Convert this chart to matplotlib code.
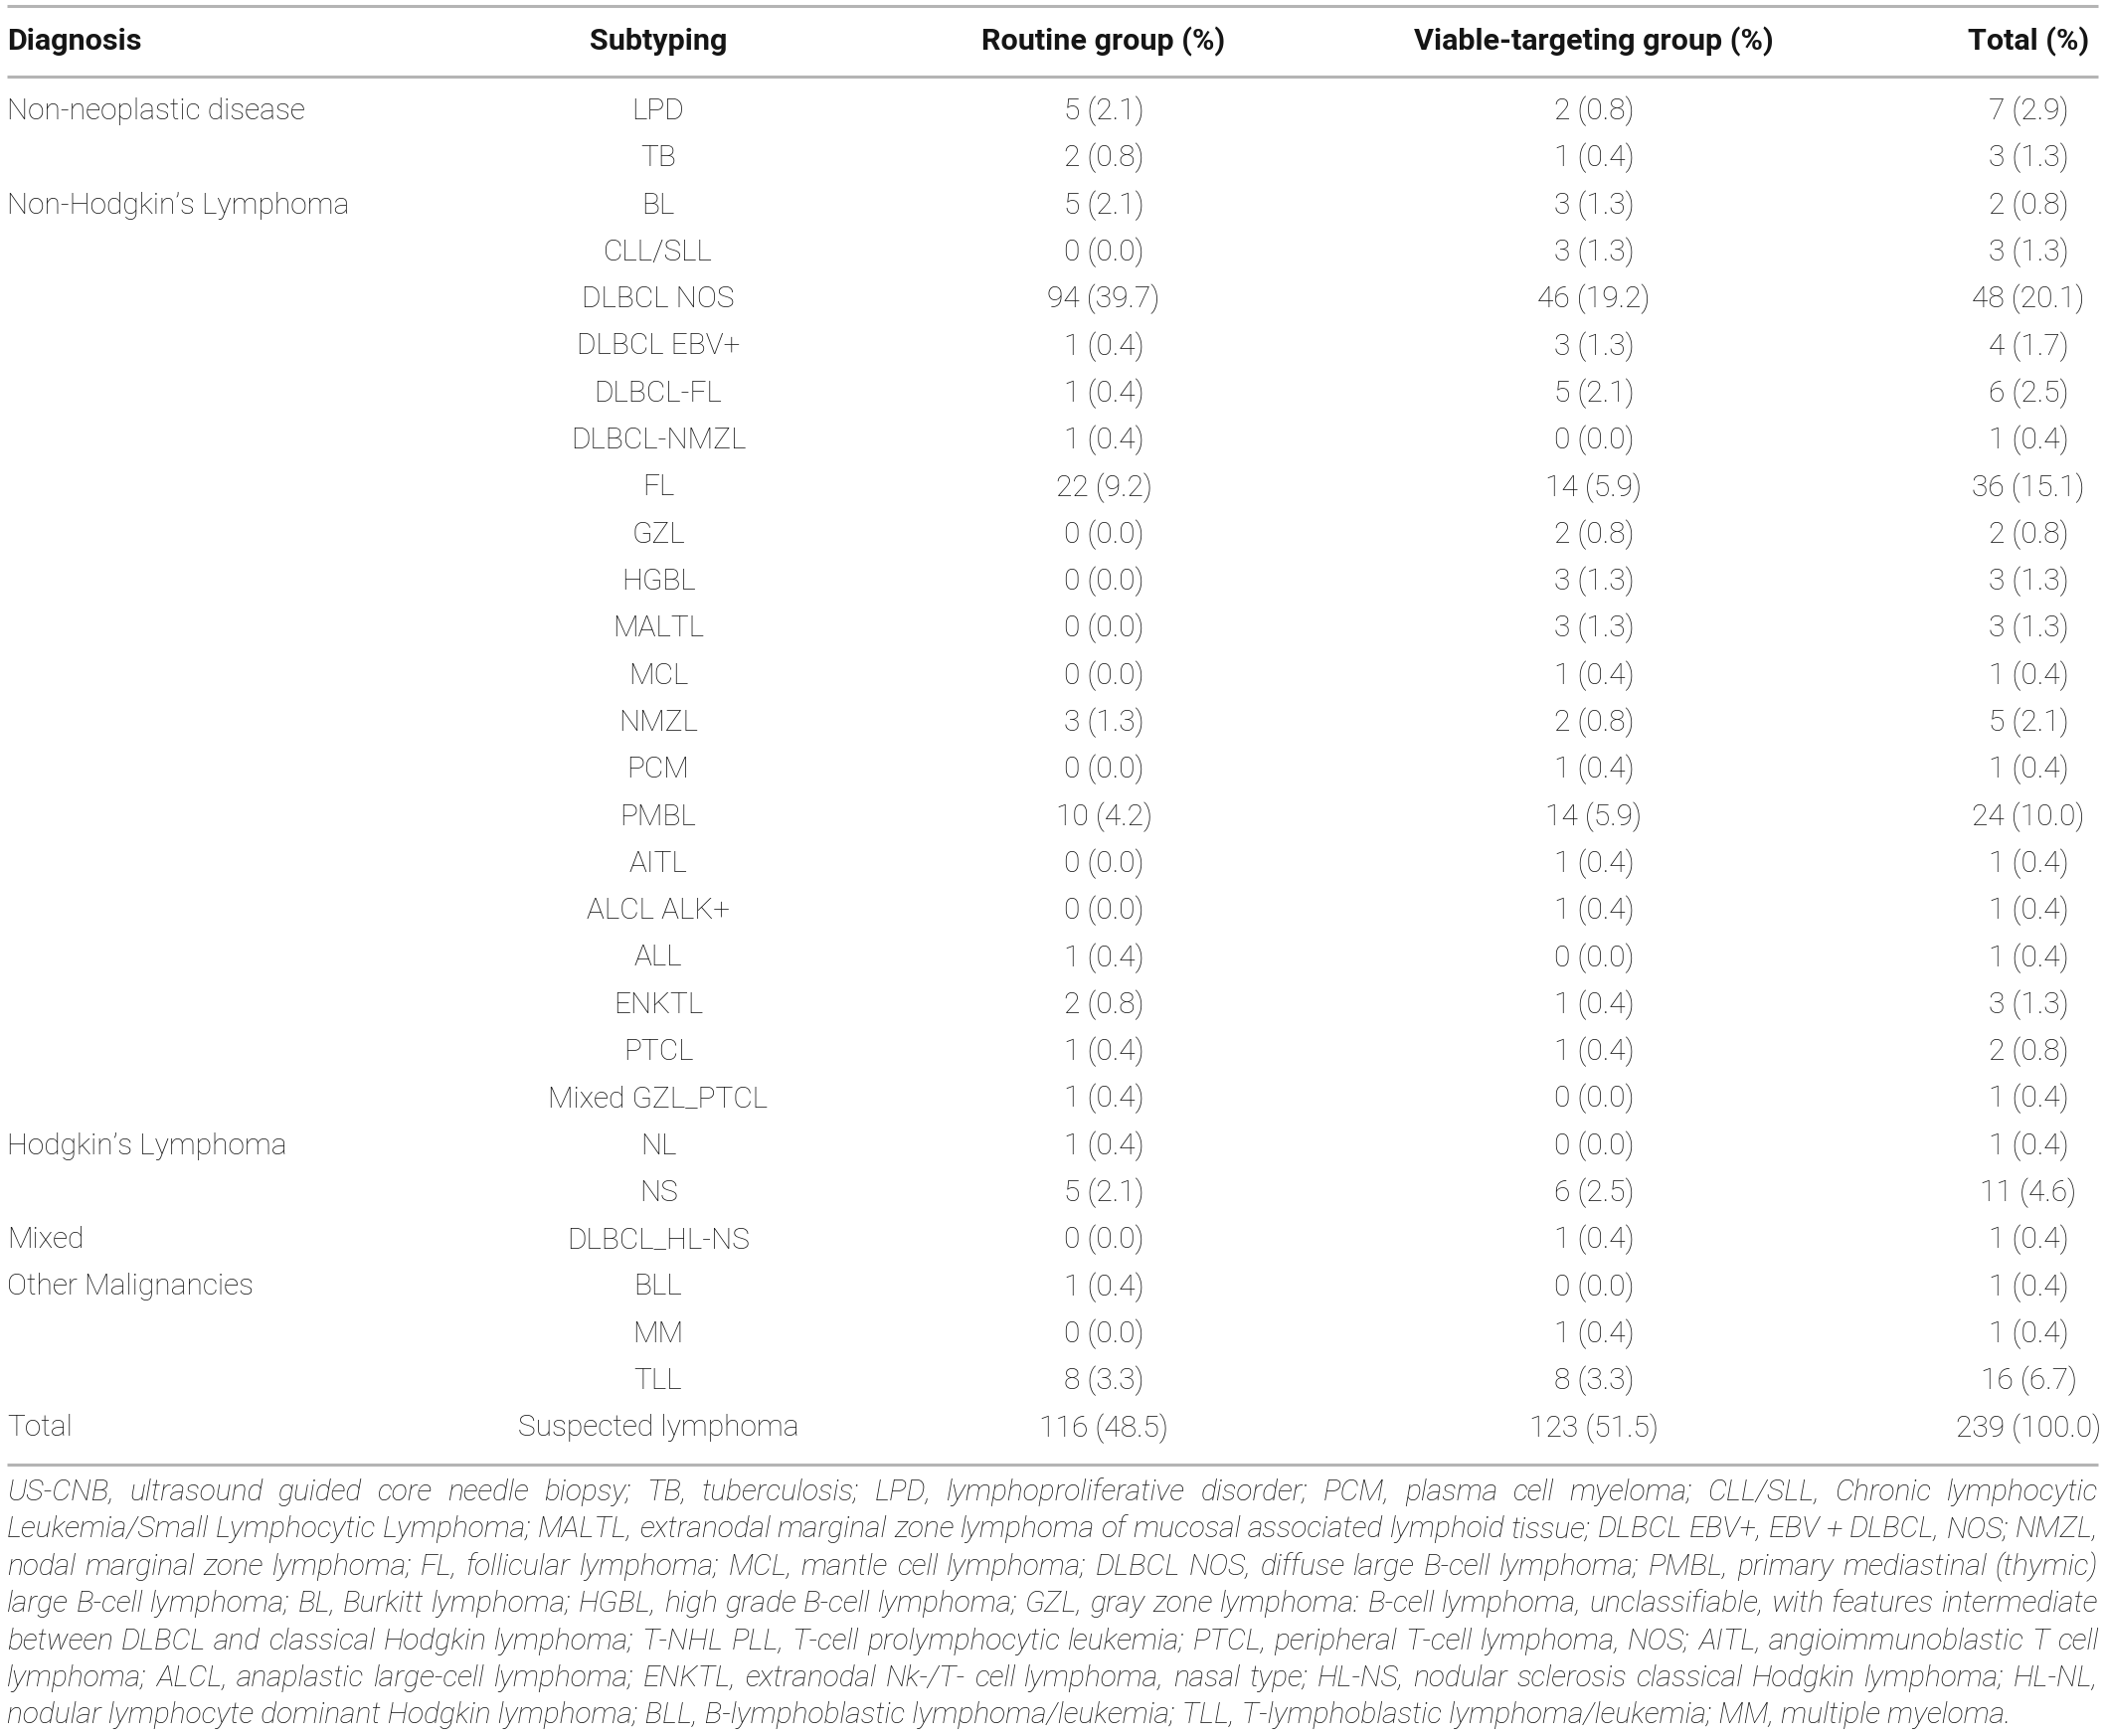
import matplotlib
matplotlib.use("Agg")
import matplotlib.pyplot as plt

# table contents
columns = ["Diagnosis", "Subtyping", "Routine group (%)",
           "Viable-targeting group (%)", "Total (%)"]

diagnosis = ["Non-neoplastic disease", "", "Non-Hodgkin\u2019s Lymphoma"] + [""] * 19 + \
            ["Hodgkin\u2019s Lymphoma", "", "Mixed", "Other Malignancies", "", "", "Total"]

subtyping = ["LPD", "TB", "BL", "CLL/SLL", "DLBCL NOS", "DLBCL EBV+", "DLBCL-FL",
             "DLBCL-NMZL", "FL", "GZL", "HGBL", "MALTL", "MCL", "NMZL", "PCM", "PMBL",
             "AITL", "ALCL ALK+", "ALL", "ENKTL", "PTCL", "Mixed GZL_PTCL", "NL", "NS",
             "DLBCL_HL-NS", "BLL", "MM", "TLL", "Suspected lymphoma"]

routine_n = [5, 2, 5, 0, 94, 1, 1, 1, 22, 0, 0, 0, 0, 3, 0, 10, 0, 0, 1, 2, 1, 1, 1, 5, 0, 1, 0, 8, 116]
routine_pct = [2.1, 0.8, 2.1, 0.0, 39.7, 0.4, 0.4, 0.4, 9.2, 0.0, 0.0, 0.0, 0.0, 1.3, 0.0, 4.2,
               0.0, 0.0, 0.4, 0.8, 0.4, 0.4, 0.4, 2.1, 0.0, 0.4, 0.0, 3.3, 48.5]

viable_n = [2, 1, 3, 3, 46, 3, 5, 0, 14, 2, 3, 3, 1, 2, 1, 14, 1, 1, 0, 1, 1, 0, 0, 6, 1, 0, 1, 8, 123]
viable_pct = [0.8, 0.4, 1.3, 1.3, 19.2, 1.3, 2.1, 0.0, 5.9, 0.8, 1.3, 1.3, 0.4, 0.8, 0.4, 5.9,
              0.4, 0.4, 0.0, 0.4, 0.4, 0.0, 0.0, 2.5, 0.4, 0.0, 0.4, 3.3, 51.5]

total_n = [7, 3, 2, 3, 48, 4, 6, 1, 36, 2, 3, 3, 1, 5, 1, 24, 1, 1, 1, 3, 2, 1, 1, 11, 1, 1, 1, 16, 239]
total_pct = [2.9, 1.3, 0.8, 1.3, 20.1, 1.7, 2.5, 0.4, 15.1, 0.8, 1.3, 1.3, 0.4, 2.1, 0.4, 10.0,
             0.4, 0.4, 0.4, 1.3, 0.8, 0.4, 0.4, 4.6, 0.4, 0.4, 0.4, 6.7, 100.0]

footnote = [
    "US-CNB, ultrasound guided core needle biopsy; TB, tuberculosis; LPD, lymphoproliferative disorder; PCM, plasma cell myeloma; CLL/SLL, Chronic lymphocytic",
    "Leukemia/Small Lymphocytic Lymphoma; MALTL, extranodal marginal zone lymphoma of mucosal associated lymphoid tissue; DLBCL EBV+, EBV + DLBCL, NOS; NMZL,",
    "nodal marginal zone lymphoma; FL, follicular lymphoma; MCL, mantle cell lymphoma; DLBCL NOS, diffuse large B-cell lymphoma; PMBL, primary mediastinal (thymic)",
    "large B-cell lymphoma; BL, Burkitt lymphoma; HGBL, high grade B-cell lymphoma; GZL, gray zone lymphoma: B-cell lymphoma, unclassifiable, with features intermediate",
    "between DLBCL and classical Hodgkin lymphoma; T-NHL PLL, T-cell prolymphocytic leukemia; PTCL, peripheral T-cell lymphoma, NOS; AITL, angioimmunoblastic T cell",
    "lymphoma; ALCL, anaplastic large-cell lymphoma; ENKTL, extranodal Nk-/T- cell lymphoma, nasal type; HL-NS, nodular sclerosis classical Hodgkin lymphoma; HL-NL,",
    "nodular lymphocyte dominant Hodgkin lymphoma; BLL, B-lymphoblastic lymphoma/leukemia; TLL, T-lymphoblastic lymphoma/leukemia; MM, multiple myeloma.",
]

W, H = 2118, 1746
fam = ["Roboto", "DejaVu Sans"]
ink = "#151515"
rule = "#b4b4b4"

fig = plt.figure(figsize=(W / 100, H / 100), dpi=100)
ax = fig.add_axes([0, 0, 1, 1])
ax.set_xlim(0, W)
ax.set_ylim(H, 0)
ax.axis("off")
r = fig.canvas.get_renderer()


def fit_size(s, target, **kw):
    t = ax.text(0, 0, s, fontsize=10, family=fam, **kw)
    w = t.get_window_extent(r).width
    t.remove()
    return 10 * target / w


body_fs = fit_size("Non-neoplastic disease", 300, fontweight="light")
head_fs = fit_size("Viable-targeting group (%)", 363, fontweight="bold")
note_fs = fit_size(footnote[-1], 2010, style="italic", fontweight="light")

col_x = [7, 662, 1110, 1603, 2040]
col_ha = ["left", "center", "center", "center", "center"]
left, right = 7, 2110

# rules
for y in [6, 77, 1473]:
    ax.plot([left, right], [y, y], color=rule, lw=2.2, solid_capstyle="butt")

# header
for x, ha, s in zip(col_x, col_ha, columns):
    ax.text(x, 42, s, ha=ha, va="center", fontsize=head_fs, fontweight="bold",
            family=fam, color=ink)

# body rows
y0, step = 112, 47.3
for i in range(len(subtyping)):
    y = y0 + i * step
    cells = [diagnosis[i], subtyping[i],
             f"{routine_n[i]} ({routine_pct[i]:.1f})",
             f"{viable_n[i]} ({viable_pct[i]:.1f})",
             f"{total_n[i]} ({total_pct[i]:.1f})"]
    for x, ha, s in zip(col_x, col_ha, cells):
        if s:
            ax.text(x, y, s, ha=ha, va="center", fontsize=body_fs, fontweight="light",
                    family=fam, color=ink)

# footnote, justified
fy0, fstep = 1501, 37.4
for k, line in enumerate(footnote):
    y = fy0 + k * fstep
    words = line.split(" ")
    if k == len(footnote) - 1:
        ax.text(left, y, line, ha="left", va="center", fontsize=note_fs,
                style="italic", fontweight="light", family=fam, color=ink)
        continue
    texts, widths = [], []
    for wd in words:
        t = ax.text(0, y, wd, ha="left", va="center", fontsize=note_fs,
                    style="italic", fontweight="light", family=fam, color=ink)
        texts.append(t)
        widths.append(t.get_window_extent(r).width)
    gap = (right - left - sum(widths)) / (len(words) - 1)
    x = left
    for t, w in zip(texts, widths):
        t.set_x(x)
        x += w + gap

fig.savefig("out.png", dpi=100, facecolor="white")
